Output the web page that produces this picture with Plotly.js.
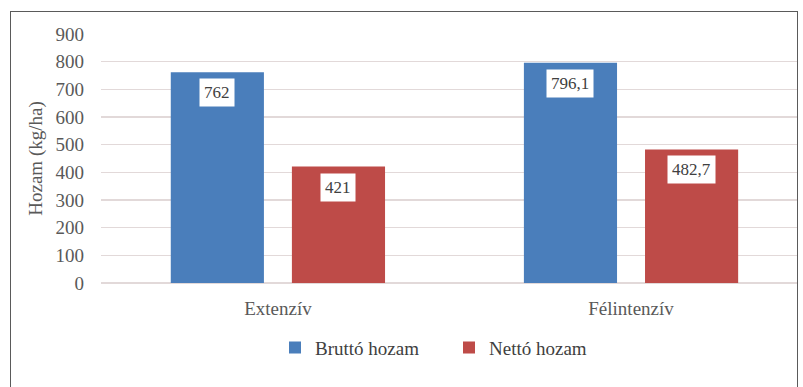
<!DOCTYPE html>
<html>
<head>
<meta charset="utf-8">
<script src="https://cdn.plot.ly/plotly-3.0.1.min.js"></script>
<style>
  html, body { margin: 0; padding: 0; background: #fff; font-family: "Liberation Serif", serif; }
  #frame { position: absolute; left: 10px; top: 11px; width: 788px; height: 380px;
           border: 1.5px solid #5a5a5a; box-sizing: border-box; }
  #chart { position: absolute; left: 0; top: 0; width: 803px; height: 387px; }
  #chart text { font-family: "Liberation Serif", serif !important; }
</style>
</head>
<body>
<div id="frame"></div>
<div id="chart"></div>
<script>
// Yield per farming system (kg/ha)
const categories = ["Extenzív", "Félintenzív"];
const bruttoValues = [762, 796.1];
const nettoValues = [421, 482.7];
const bruttoLabels = ["762", "796,1"];
const nettoLabels = ["421", "482,7"];
const yTicks = [0, 100, 200, 300, 400, 500, 600, 700, 800, 900];

const blue = "#4a7ebb";
const red = "#be4b48";
const fontFamily = "Liberation Serif";
const bargap = 0.314;

function draw() {
  const traces = [
    { type: "bar", name: "Bruttó hozam", x: categories, y: bruttoValues,
      marker: { color: blue }, hoverinfo: "skip" },
    { type: "bar", name: "Nettó hozam", x: categories, y: nettoValues,
      marker: { color: red }, hoverinfo: "skip" }
  ];

  // White value boxes sitting just below each bar top
  const slot = (1 - bargap) / 2;
  const annotations = [];
  categories.forEach((c, i) => {
    [[bruttoValues, bruttoLabels, -1], [nettoValues, nettoLabels, 1]].forEach(([vals, labs, side]) => {
      annotations.push({
        x: i + side * slot / 2, y: vals[i], xref: "x", yref: "y",
        text: labs[i], showarrow: false, yanchor: "top", yshift: -6,
        bgcolor: "#ffffff", borderpad: 4,
        font: { family: fontFamily, size: 17, color: "#404040" }
      });
    });
  });

  const layout = {
    width: 803, height: 387,
    margin: { l: 101, r: 6, t: 34, b: 104 },
    font: { family: fontFamily, color: "#595959" },
    paper_bgcolor: "rgba(0,0,0,0)",
    plot_bgcolor: "rgba(0,0,0,0)",
    barmode: "group",
    bargap: bargap,
    bargroupgap: 0.231,
    showlegend: true,
    legend: {
      orientation: "h", x: 0.5, xanchor: "center", y: -0.26, yanchor: "middle",
      font: { family: fontFamily, size: 19, color: "#404040" },
      itemwidth: 30, entrywidth: 129, traceorder: "normal"
    },
    xaxis: {
      type: "category", range: [-0.501, 1.47],
      showgrid: false, zeroline: false, showline: false, ticks: "",
      ticklabelstandoff: 12,
      tickfont: { family: fontFamily, size: 19, color: "#595959" }
    },
    yaxis: {
      range: [0, 900], tickvals: yTicks, ticktext: yTicks.map(String),
      showgrid: true, gridcolor: "#e2d9d9", gridwidth: 1.5,
      zeroline: true, zerolinecolor: "#e2d9d9", zerolinewidth: 1.5,
      showline: false, ticks: "", ticklabelstandoff: 16,
      tickfont: { family: fontFamily, size: 19, color: "#595959" },
      title: { text: "Hozam (kg/ha)", standoff: 7,
               font: { family: fontFamily, size: 19, color: "#595959" } }
    },
    annotations: annotations
  };

  Plotly.newPlot("chart", traces, layout, { staticPlot: true, displayModeBar: false });
}

if (document.fonts && document.fonts.load) {
  document.fonts.load('19px "Liberation Serif"').then(draw, draw);
} else {
  draw();
}
</script>
</body>
</html>
